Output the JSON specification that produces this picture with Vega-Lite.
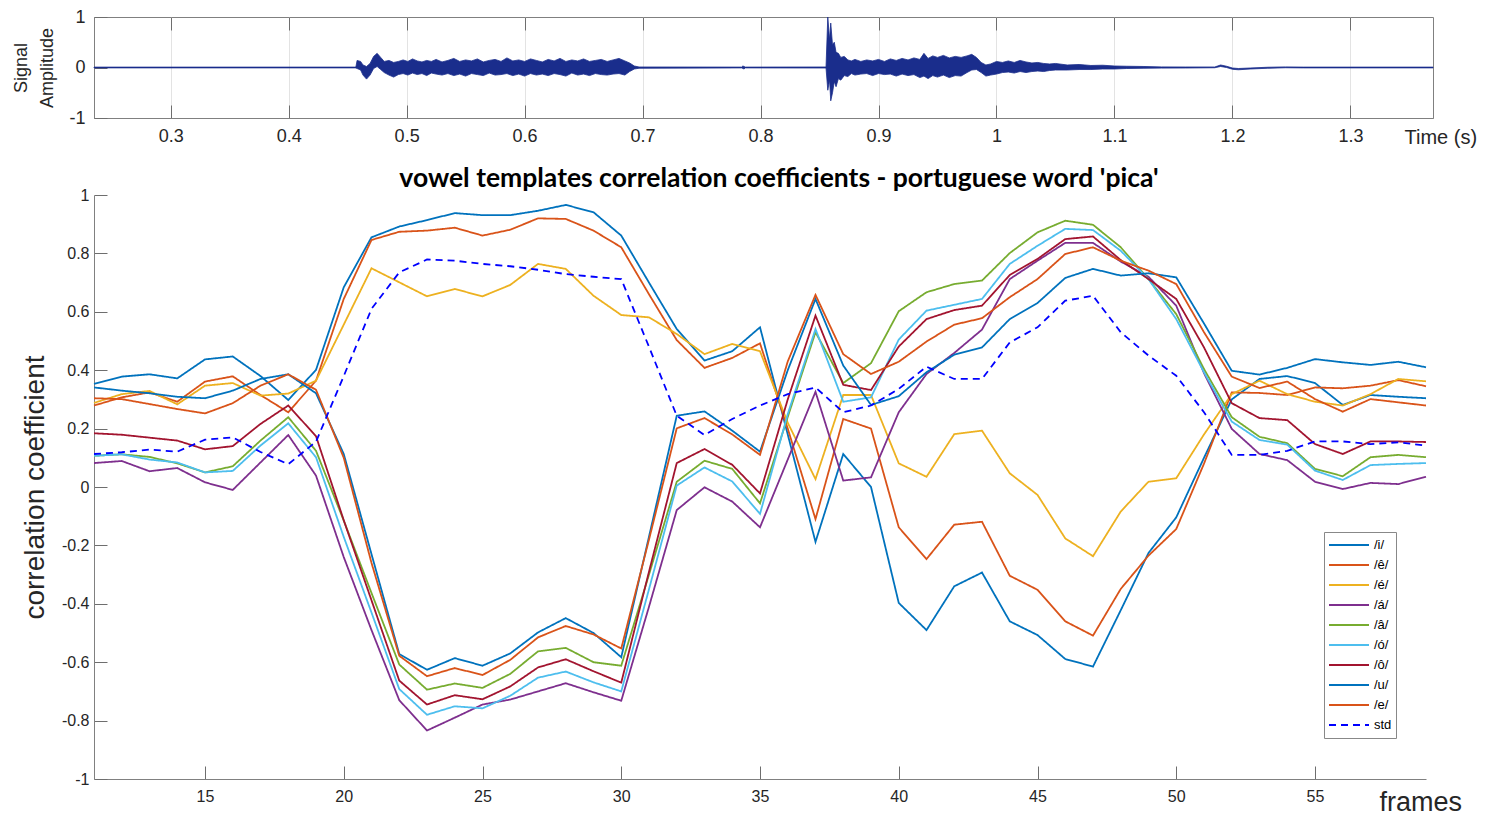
{
"$schema": "https://vega.github.io/schema/vega-lite/v6.json",
"background": "white",
"padding": {"left": 12, "top": 7, "right": 5, "bottom": 0},
"spacing": 17,
"config": {
  "font": "Liberation Sans",
  "view": {"stroke": null},
  "axis": {"domainColor": "#808080", "tickColor": "#6e6e6e", "labelColor": "#262626", "titleColor": "#262626", "labelFont": "Liberation Sans", "titleFont": "Liberation Sans", "titleFontWeight": "normal", "labelFlush": false, "labelOverlap": false, "tickSize": -13, "grid": false}
},
"datasets": {
"wave": [
{"t":0.235,"hi":0.008,"lo":-0.008},{"t":0.456,"hi":0.008,"lo":-0.008},{"t":0.457,"hi":0.01,"lo":-0.01},{"t":0.458,"hi":0.14,"lo":-0.02},{"t":0.461,"hi":0.12,"lo":-0.05},{"t":0.463,"hi":0.05,"lo":-0.15},{"t":0.466,"hi":0.02,"lo":-0.23},{"t":0.469,"hi":0.08,"lo":-0.15},{"t":0.472,"hi":0.22,"lo":-0.02},{"t":0.475,"hi":0.28,"lo":0.02},{"t":0.478,"hi":0.2,"lo":-0.04},{"t":0.481,"hi":0.12,"lo":-0.1},{"t":0.485,"hi":0.14,"lo":-0.15},{"t":0.489,"hi":0.1,"lo":-0.19},{"t":0.493,"hi":0.12,"lo":-0.14},{"t":0.497,"hi":0.15,"lo":-0.12},{"t":0.501,"hi":0.12,"lo":-0.15},{"t":0.505,"hi":0.17,"lo":-0.11},{"t":0.509,"hi":0.13,"lo":-0.14},{"t":0.513,"hi":0.11,"lo":-0.12},{"t":0.517,"hi":0.14,"lo":-0.16},{"t":0.521,"hi":0.12,"lo":-0.11},{"t":0.525,"hi":0.16,"lo":-0.13},{"t":0.53,"hi":0.11,"lo":-0.15},{"t":0.535,"hi":0.14,"lo":-0.12},{"t":0.54,"hi":0.18,"lo":-0.16},{"t":0.545,"hi":0.12,"lo":-0.13},{"t":0.55,"hi":0.15,"lo":-0.17},{"t":0.555,"hi":0.13,"lo":-0.12},{"t":0.56,"hi":0.17,"lo":-0.14},{"t":0.565,"hi":0.11,"lo":-0.16},{"t":0.57,"hi":0.14,"lo":-0.11},{"t":0.575,"hi":0.16,"lo":-0.15},{"t":0.58,"hi":0.12,"lo":-0.14},{"t":0.585,"hi":0.19,"lo":-0.12},{"t":0.59,"hi":0.13,"lo":-0.16},{"t":0.595,"hi":0.15,"lo":-0.13},{"t":0.6,"hi":0.12,"lo":-0.17},{"t":0.605,"hi":0.17,"lo":-0.12},{"t":0.61,"hi":0.14,"lo":-0.15},{"t":0.615,"hi":0.11,"lo":-0.13},{"t":0.62,"hi":0.16,"lo":-0.16},{"t":0.625,"hi":0.13,"lo":-0.12},{"t":0.63,"hi":0.18,"lo":-0.14},{"t":0.635,"hi":0.12,"lo":-0.17},{"t":0.64,"hi":0.15,"lo":-0.11},{"t":0.645,"hi":0.13,"lo":-0.15},{"t":0.65,"hi":0.17,"lo":-0.13},{"t":0.655,"hi":0.12,"lo":-0.16},{"t":0.66,"hi":0.14,"lo":-0.12},{"t":0.665,"hi":0.16,"lo":-0.14},{"t":0.67,"hi":0.12,"lo":-0.15},{"t":0.675,"hi":0.15,"lo":-0.13},{"t":0.68,"hi":0.18,"lo":-0.12},{"t":0.685,"hi":0.13,"lo":-0.15},{"t":0.689,"hi":0.09,"lo":-0.08},{"t":0.693,"hi":0.03,"lo":-0.03},{"t":0.697,"hi":0.01,"lo":-0.015},{"t":0.784,"hi":0.008,"lo":-0.008},{"t":0.785,"hi":0.03,"lo":-0.02},{"t":0.786,"hi":0.02,"lo":-0.03},{"t":0.787,"hi":0.008,"lo":-0.008},{"t":0.8555,"hi":0.01,"lo":-0.01},{"t":0.857,"hi":1.0,"lo":-0.45},{"t":0.8585,"hi":0.55,"lo":-0.25},{"t":0.8595,"hi":0.88,"lo":-0.66},{"t":0.861,"hi":0.45,"lo":-0.5},{"t":0.8625,"hi":0.5,"lo":-0.28},{"t":0.864,"hi":0.3,"lo":-0.38},{"t":0.866,"hi":0.28,"lo":-0.22},{"t":0.868,"hi":0.2,"lo":-0.25},{"t":0.871,"hi":0.22,"lo":-0.16},{"t":0.874,"hi":0.15,"lo":-0.18},{"t":0.877,"hi":0.13,"lo":-0.12},{"t":0.88,"hi":0.16,"lo":-0.15},{"t":0.885,"hi":0.12,"lo":-0.13},{"t":0.89,"hi":0.15,"lo":-0.12},{"t":0.895,"hi":0.13,"lo":-0.16},{"t":0.9,"hi":0.16,"lo":-0.12},{"t":0.905,"hi":0.12,"lo":-0.14},{"t":0.91,"hi":0.17,"lo":-0.13},{"t":0.915,"hi":0.14,"lo":-0.17},{"t":0.92,"hi":0.18,"lo":-0.13},{"t":0.925,"hi":0.15,"lo":-0.16},{"t":0.93,"hi":0.19,"lo":-0.14},{"t":0.935,"hi":0.16,"lo":-0.2},{"t":0.9385,"hi":0.28,"lo":-0.17},{"t":0.942,"hi":0.18,"lo":-0.22},{"t":0.946,"hi":0.23,"lo":-0.16},{"t":0.95,"hi":0.2,"lo":-0.19},{"t":0.955,"hi":0.24,"lo":-0.15},{"t":0.96,"hi":0.19,"lo":-0.2},{"t":0.965,"hi":0.22,"lo":-0.16},{"t":0.97,"hi":0.2,"lo":-0.17},{"t":0.975,"hi":0.23,"lo":-0.1},{"t":0.979,"hi":0.26,"lo":-0.05},{"t":0.983,"hi":0.2,"lo":-0.04},{"t":0.987,"hi":0.1,"lo":-0.1},{"t":0.991,"hi":0.05,"lo":-0.17},{"t":0.995,"hi":0.07,"lo":-0.15},{"t":1.0,"hi":0.12,"lo":-0.13},{"t":1.005,"hi":0.1,"lo":-0.1},{"t":1.01,"hi":0.13,"lo":-0.09},{"t":1.015,"hi":0.1,"lo":-0.11},{"t":1.02,"hi":0.14,"lo":-0.08},{"t":1.025,"hi":0.11,"lo":-0.1},{"t":1.03,"hi":0.09,"lo":-0.08},{"t":1.035,"hi":0.1,"lo":-0.07},{"t":1.04,"hi":0.08,"lo":-0.08},{"t":1.045,"hi":0.07,"lo":-0.06},{"t":1.05,"hi":0.08,"lo":-0.05},{"t":1.06,"hi":0.05,"lo":-0.05},{"t":1.07,"hi":0.06,"lo":-0.04},{"t":1.08,"hi":0.04,"lo":-0.04},{"t":1.09,"hi":0.045,"lo":-0.03},{"t":1.1,"hi":0.03,"lo":-0.03},{"t":1.11,"hi":0.025,"lo":-0.02},{"t":1.125,"hi":0.02,"lo":-0.015},{"t":1.14,"hi":0.012,"lo":-0.012},{"t":1.16,"hi":0.01,"lo":-0.01},{"t":1.185,"hi":0.01,"lo":-0.005},{"t":1.19,"hi":0.05,"lo":0.02},{"t":1.195,"hi":0.025,"lo":0.0},{"t":1.2,"hi":-0.01,"lo":-0.035},{"t":1.205,"hi":-0.02,"lo":-0.045},{"t":1.215,"hi":-0.01,"lo":-0.03},{"t":1.23,"hi":0.005,"lo":-0.015},{"t":1.245,"hi":0.012,"lo":-0.005},{"t":1.26,"hi":0.008,"lo":-0.008},{"t":1.37,"hi":0.008,"lo":-0.008}
],
"corr": [
{"f":11,"s":"/i/","v":0.353},{"f":12,"s":"/i/","v":0.378},{"f":13,"s":"/i/","v":0.386},{"f":14,"s":"/i/","v":0.372},{"f":15,"s":"/i/","v":0.437},{"f":16,"s":"/i/","v":0.447},{"f":17,"s":"/i/","v":0.38},{"f":18,"s":"/i/","v":0.298},{"f":19,"s":"/i/","v":0.401},{"f":20,"s":"/i/","v":0.684},{"f":21,"s":"/i/","v":0.855},{"f":22,"s":"/i/","v":0.892},{"f":23,"s":"/i/","v":0.914},{"f":24,"s":"/i/","v":0.938},{"f":25,"s":"/i/","v":0.931},{"f":26,"s":"/i/","v":0.931},{"f":27,"s":"/i/","v":0.946},{"f":28,"s":"/i/","v":0.966},{"f":29,"s":"/i/","v":0.941},{"f":30,"s":"/i/","v":0.861},{"f":31,"s":"/i/","v":0.70},{"f":32,"s":"/i/","v":0.541},{"f":33,"s":"/i/","v":0.433},{"f":34,"s":"/i/","v":0.465},{"f":35,"s":"/i/","v":0.547},{"f":36,"s":"/i/","v":0.18},{"f":37,"s":"/i/","v":-0.188},{"f":38,"s":"/i/","v":0.113},{"f":39,"s":"/i/","v":0.0},{"f":40,"s":"/i/","v":-0.397},{"f":41,"s":"/i/","v":-0.49},{"f":42,"s":"/i/","v":-0.34},{"f":43,"s":"/i/","v":-0.293},{"f":44,"s":"/i/","v":-0.46},{"f":45,"s":"/i/","v":-0.507},{"f":46,"s":"/i/","v":-0.589},{"f":47,"s":"/i/","v":-0.615},{"f":48,"s":"/i/","v":-0.422},{"f":49,"s":"/i/","v":-0.226},{"f":50,"s":"/i/","v":-0.104},{"f":51,"s":"/i/","v":0.1},{"f":52,"s":"/i/","v":0.30},{"f":53,"s":"/i/","v":0.37},{"f":54,"s":"/i/","v":0.38},{"f":55,"s":"/i/","v":0.356},{"f":56,"s":"/i/","v":0.281},{"f":57,"s":"/i/","v":0.315},{"f":58,"s":"/i/","v":0.309},{"f":59,"s":"/i/","v":0.304},
{"f":11,"s":"/ê/","v":0.279},{"f":12,"s":"/ê/","v":0.307},{"f":13,"s":"/ê/","v":0.324},{"f":14,"s":"/ê/","v":0.292},{"f":15,"s":"/ê/","v":0.361},{"f":16,"s":"/ê/","v":0.379},{"f":17,"s":"/ê/","v":0.315},{"f":18,"s":"/ê/","v":0.256},{"f":19,"s":"/ê/","v":0.364},{"f":20,"s":"/ê/","v":0.644},{"f":21,"s":"/ê/","v":0.846},{"f":22,"s":"/ê/","v":0.874},{"f":23,"s":"/ê/","v":0.878},{"f":24,"s":"/ê/","v":0.888},{"f":25,"s":"/ê/","v":0.861},{"f":26,"s":"/ê/","v":0.881},{"f":27,"s":"/ê/","v":0.920},{"f":28,"s":"/ê/","v":0.918},{"f":29,"s":"/ê/","v":0.878},{"f":30,"s":"/ê/","v":0.821},{"f":31,"s":"/ê/","v":0.66},{"f":32,"s":"/ê/","v":0.503},{"f":33,"s":"/ê/","v":0.408},{"f":34,"s":"/ê/","v":0.442},{"f":35,"s":"/ê/","v":0.492},{"f":36,"s":"/ê/","v":0.2},{"f":37,"s":"/ê/","v":-0.11},{"f":38,"s":"/ê/","v":0.233},{"f":39,"s":"/ê/","v":0.20},{"f":40,"s":"/ê/","v":-0.138},{"f":41,"s":"/ê/","v":-0.247},{"f":42,"s":"/ê/","v":-0.129},{"f":43,"s":"/ê/","v":-0.119},{"f":44,"s":"/ê/","v":-0.304},{"f":45,"s":"/ê/","v":-0.352},{"f":46,"s":"/ê/","v":-0.46},{"f":47,"s":"/ê/","v":-0.509},{"f":48,"s":"/ê/","v":-0.349},{"f":49,"s":"/ê/","v":-0.235},{"f":50,"s":"/ê/","v":-0.144},{"f":51,"s":"/ê/","v":0.08},{"f":52,"s":"/ê/","v":0.324},{"f":53,"s":"/ê/","v":0.322},{"f":54,"s":"/ê/","v":0.315},{"f":55,"s":"/ê/","v":0.341},{"f":56,"s":"/ê/","v":0.338},{"f":57,"s":"/ê/","v":0.347},{"f":58,"s":"/ê/","v":0.366},{"f":59,"s":"/ê/","v":0.345},
{"f":11,"s":"/é/","v":0.288},{"f":12,"s":"/é/","v":0.318},{"f":13,"s":"/é/","v":0.329},{"f":14,"s":"/é/","v":0.283},{"f":15,"s":"/é/","v":0.347},{"f":16,"s":"/é/","v":0.356},{"f":17,"s":"/é/","v":0.313},{"f":18,"s":"/é/","v":0.320},{"f":19,"s":"/é/","v":0.364},{"f":20,"s":"/é/","v":0.556},{"f":21,"s":"/é/","v":0.749},{"f":22,"s":"/é/","v":0.701},{"f":23,"s":"/é/","v":0.653},{"f":24,"s":"/é/","v":0.678},{"f":25,"s":"/é/","v":0.653},{"f":26,"s":"/é/","v":0.692},{"f":27,"s":"/é/","v":0.764},{"f":28,"s":"/é/","v":0.747},{"f":29,"s":"/é/","v":0.655},{"f":30,"s":"/é/","v":0.589},{"f":31,"s":"/é/","v":0.581},{"f":32,"s":"/é/","v":0.524},{"f":33,"s":"/é/","v":0.455},{"f":34,"s":"/é/","v":0.49},{"f":35,"s":"/é/","v":0.465},{"f":36,"s":"/é/","v":0.22},{"f":37,"s":"/é/","v":0.027},{"f":38,"s":"/é/","v":0.315},{"f":39,"s":"/é/","v":0.315},{"f":40,"s":"/é/","v":0.081},{"f":41,"s":"/é/","v":0.035},{"f":42,"s":"/é/","v":0.181},{"f":43,"s":"/é/","v":0.193},{"f":44,"s":"/é/","v":0.047},{"f":45,"s":"/é/","v":-0.027},{"f":46,"s":"/é/","v":-0.176},{"f":47,"s":"/é/","v":-0.237},{"f":48,"s":"/é/","v":-0.084},{"f":49,"s":"/é/","v":0.018},{"f":50,"s":"/é/","v":0.03},{"f":51,"s":"/é/","v":0.18},{"f":52,"s":"/é/","v":0.318},{"f":53,"s":"/é/","v":0.364},{"f":54,"s":"/é/","v":0.318},{"f":55,"s":"/é/","v":0.292},{"f":56,"s":"/é/","v":0.279},{"f":57,"s":"/é/","v":0.318},{"f":58,"s":"/é/","v":0.37},{"f":59,"s":"/é/","v":0.362},
{"f":11,"s":"/á/","v":0.082},{"f":12,"s":"/á/","v":0.089},{"f":13,"s":"/á/","v":0.054},{"f":14,"s":"/á/","v":0.065},{"f":15,"s":"/á/","v":0.016},{"f":16,"s":"/á/","v":-0.01},{"f":17,"s":"/á/","v":0.084},{"f":18,"s":"/á/","v":0.178},{"f":19,"s":"/á/","v":0.039},{"f":20,"s":"/á/","v":-0.24},{"f":21,"s":"/á/","v":-0.49},{"f":22,"s":"/á/","v":-0.73},{"f":23,"s":"/á/","v":-0.834},{"f":24,"s":"/á/","v":-0.79},{"f":25,"s":"/á/","v":-0.745},{"f":26,"s":"/á/","v":-0.728},{"f":27,"s":"/á/","v":-0.70},{"f":28,"s":"/á/","v":-0.672},{"f":29,"s":"/á/","v":-0.703},{"f":30,"s":"/á/","v":-0.732},{"f":31,"s":"/á/","v":-0.41},{"f":32,"s":"/á/","v":-0.079},{"f":33,"s":"/á/","v":-0.001},{"f":34,"s":"/á/","v":-0.05},{"f":35,"s":"/á/","v":-0.138},{"f":36,"s":"/á/","v":0.094},{"f":37,"s":"/á/","v":0.326},{"f":38,"s":"/á/","v":0.022},{"f":39,"s":"/á/","v":0.033},{"f":40,"s":"/á/","v":0.256},{"f":41,"s":"/á/","v":0.387},{"f":42,"s":"/á/","v":0.459},{"f":43,"s":"/á/","v":0.539},{"f":44,"s":"/á/","v":0.712},{"f":45,"s":"/á/","v":0.775},{"f":46,"s":"/á/","v":0.836},{"f":47,"s":"/á/","v":0.836},{"f":48,"s":"/á/","v":0.772},{"f":49,"s":"/á/","v":0.72},{"f":50,"s":"/á/","v":0.621},{"f":51,"s":"/á/","v":0.39},{"f":52,"s":"/á/","v":0.199},{"f":53,"s":"/á/","v":0.113},{"f":54,"s":"/á/","v":0.092},{"f":55,"s":"/á/","v":0.018},{"f":56,"s":"/á/","v":-0.007},{"f":57,"s":"/á/","v":0.014},{"f":58,"s":"/á/","v":0.01},{"f":59,"s":"/á/","v":0.035},
{"f":11,"s":"/â/","v":0.107},{"f":12,"s":"/â/","v":0.112},{"f":13,"s":"/â/","v":0.103},{"f":14,"s":"/â/","v":0.081},{"f":15,"s":"/â/","v":0.050},{"f":16,"s":"/â/","v":0.071},{"f":17,"s":"/â/","v":0.159},{"f":18,"s":"/â/","v":0.239},{"f":19,"s":"/â/","v":0.124},{"f":20,"s":"/â/","v":-0.115},{"f":21,"s":"/â/","v":-0.363},{"f":22,"s":"/â/","v":-0.608},{"f":23,"s":"/â/","v":-0.694},{"f":24,"s":"/â/","v":-0.673},{"f":25,"s":"/â/","v":-0.688},{"f":26,"s":"/â/","v":-0.64},{"f":27,"s":"/â/","v":-0.563},{"f":28,"s":"/â/","v":-0.551},{"f":29,"s":"/â/","v":-0.60},{"f":30,"s":"/â/","v":-0.612},{"f":31,"s":"/â/","v":-0.30},{"f":32,"s":"/â/","v":0.018},{"f":33,"s":"/â/","v":0.09},{"f":34,"s":"/â/","v":0.062},{"f":35,"s":"/â/","v":-0.056},{"f":36,"s":"/â/","v":0.24},{"f":37,"s":"/â/","v":0.53},{"f":38,"s":"/â/","v":0.356},{"f":39,"s":"/â/","v":0.424},{"f":40,"s":"/â/","v":0.602},{"f":41,"s":"/â/","v":0.667},{"f":42,"s":"/â/","v":0.695},{"f":43,"s":"/â/","v":0.707},{"f":44,"s":"/â/","v":0.801},{"f":45,"s":"/â/","v":0.872},{"f":46,"s":"/â/","v":0.912},{"f":47,"s":"/â/","v":0.898},{"f":48,"s":"/â/","v":0.821},{"f":49,"s":"/â/","v":0.712},{"f":50,"s":"/â/","v":0.592},{"f":51,"s":"/â/","v":0.404},{"f":52,"s":"/â/","v":0.239},{"f":53,"s":"/â/","v":0.172},{"f":54,"s":"/â/","v":0.15},{"f":55,"s":"/â/","v":0.062},{"f":56,"s":"/â/","v":0.037},{"f":57,"s":"/â/","v":0.102},{"f":58,"s":"/â/","v":0.11},{"f":59,"s":"/â/","v":0.102},
{"f":11,"s":"/ó/","v":0.107},{"f":12,"s":"/ó/","v":0.112},{"f":13,"s":"/ó/","v":0.094},{"f":14,"s":"/ó/","v":0.084},{"f":15,"s":"/ó/","v":0.050},{"f":16,"s":"/ó/","v":0.055},{"f":17,"s":"/ó/","v":0.142},{"f":18,"s":"/ó/","v":0.218},{"f":19,"s":"/ó/","v":0.102},{"f":20,"s":"/ó/","v":-0.171},{"f":21,"s":"/ó/","v":-0.43},{"f":22,"s":"/ó/","v":-0.692},{"f":23,"s":"/ó/","v":-0.78},{"f":24,"s":"/ó/","v":-0.751},{"f":25,"s":"/ó/","v":-0.758},{"f":26,"s":"/ó/","v":-0.715},{"f":27,"s":"/ó/","v":-0.653},{"f":28,"s":"/ó/","v":-0.632},{"f":29,"s":"/ó/","v":-0.669},{"f":30,"s":"/ó/","v":-0.70},{"f":31,"s":"/ó/","v":-0.35},{"f":32,"s":"/ó/","v":0.005},{"f":33,"s":"/ó/","v":0.067},{"f":34,"s":"/ó/","v":0.019},{"f":35,"s":"/ó/","v":-0.092},{"f":36,"s":"/ó/","v":0.25},{"f":37,"s":"/ó/","v":0.541},{"f":38,"s":"/ó/","v":0.292},{"f":39,"s":"/ó/","v":0.307},{"f":40,"s":"/ó/","v":0.505},{"f":41,"s":"/ó/","v":0.604},{"f":42,"s":"/ó/","v":0.624},{"f":43,"s":"/ó/","v":0.644},{"f":44,"s":"/ó/","v":0.764},{"f":45,"s":"/ó/","v":0.826},{"f":46,"s":"/ó/","v":0.884},{"f":47,"s":"/ó/","v":0.88},{"f":48,"s":"/ó/","v":0.809},{"f":49,"s":"/ó/","v":0.712},{"f":50,"s":"/ó/","v":0.575},{"f":51,"s":"/ó/","v":0.393},{"f":52,"s":"/ó/","v":0.224},{"f":53,"s":"/ó/","v":0.161},{"f":54,"s":"/ó/","v":0.145},{"f":55,"s":"/ó/","v":0.056},{"f":56,"s":"/ó/","v":0.024},{"f":57,"s":"/ó/","v":0.075},{"f":58,"s":"/ó/","v":0.079},{"f":59,"s":"/ó/","v":0.082},
{"f":11,"s":"/ô/","v":0.184},{"f":12,"s":"/ô/","v":0.179},{"f":13,"s":"/ô/","v":0.169},{"f":14,"s":"/ô/","v":0.159},{"f":15,"s":"/ô/","v":0.129},{"f":16,"s":"/ô/","v":0.140},{"f":17,"s":"/ô/","v":0.216},{"f":18,"s":"/ô/","v":0.279},{"f":19,"s":"/ô/","v":0.174},{"f":20,"s":"/ô/","v":-0.114},{"f":21,"s":"/ô/","v":-0.388},{"f":22,"s":"/ô/","v":-0.663},{"f":23,"s":"/ô/","v":-0.745},{"f":24,"s":"/ô/","v":-0.713},{"f":25,"s":"/ô/","v":-0.727},{"f":26,"s":"/ô/","v":-0.683},{"f":27,"s":"/ô/","v":-0.618},{"f":28,"s":"/ô/","v":-0.59},{"f":29,"s":"/ô/","v":-0.631},{"f":30,"s":"/ô/","v":-0.67},{"f":31,"s":"/ô/","v":-0.29},{"f":32,"s":"/ô/","v":0.082},{"f":33,"s":"/ô/","v":0.13},{"f":34,"s":"/ô/","v":0.076},{"f":35,"s":"/ô/","v":-0.022},{"f":36,"s":"/ô/","v":0.30},{"f":37,"s":"/ô/","v":0.587},{"f":38,"s":"/ô/","v":0.35},{"f":39,"s":"/ô/","v":0.332},{"f":40,"s":"/ô/","v":0.481},{"f":41,"s":"/ô/","v":0.575},{"f":42,"s":"/ô/","v":0.606},{"f":43,"s":"/ô/","v":0.621},{"f":44,"s":"/ô/","v":0.726},{"f":45,"s":"/ô/","v":0.781},{"f":46,"s":"/ô/","v":0.849},{"f":47,"s":"/ô/","v":0.858},{"f":48,"s":"/ô/","v":0.777},{"f":49,"s":"/ô/","v":0.712},{"f":50,"s":"/ô/","v":0.644},{"f":51,"s":"/ô/","v":0.478},{"f":52,"s":"/ô/","v":0.287},{"f":53,"s":"/ô/","v":0.236},{"f":54,"s":"/ô/","v":0.229},{"f":55,"s":"/ô/","v":0.147},{"f":56,"s":"/ô/","v":0.113},{"f":57,"s":"/ô/","v":0.156},{"f":58,"s":"/ô/","v":0.156},{"f":59,"s":"/ô/","v":0.154},
{"f":11,"s":"/u/","v":0.341},{"f":12,"s":"/u/","v":0.330},{"f":13,"s":"/u/","v":0.321},{"f":14,"s":"/u/","v":0.309},{"f":15,"s":"/u/","v":0.304},{"f":16,"s":"/u/","v":0.330},{"f":17,"s":"/u/","v":0.370},{"f":18,"s":"/u/","v":0.386},{"f":19,"s":"/u/","v":0.321},{"f":20,"s":"/u/","v":0.113},{"f":21,"s":"/u/","v":-0.23},{"f":22,"s":"/u/","v":-0.572},{"f":23,"s":"/u/","v":-0.626},{"f":24,"s":"/u/","v":-0.586},{"f":25,"s":"/u/","v":-0.612},{"f":26,"s":"/u/","v":-0.57},{"f":27,"s":"/u/","v":-0.498},{"f":28,"s":"/u/","v":-0.449},{"f":29,"s":"/u/","v":-0.50},{"f":30,"s":"/u/","v":-0.583},{"f":31,"s":"/u/","v":-0.17},{"f":32,"s":"/u/","v":0.244},{"f":33,"s":"/u/","v":0.259},{"f":34,"s":"/u/","v":0.193},{"f":35,"s":"/u/","v":0.121},{"f":36,"s":"/u/","v":0.40},{"f":37,"s":"/u/","v":0.644},{"f":38,"s":"/u/","v":0.416},{"f":39,"s":"/u/","v":0.281},{"f":40,"s":"/u/","v":0.311},{"f":41,"s":"/u/","v":0.393},{"f":42,"s":"/u/","v":0.453},{"f":43,"s":"/u/","v":0.478},{"f":44,"s":"/u/","v":0.575},{"f":45,"s":"/u/","v":0.630},{"f":46,"s":"/u/","v":0.716},{"f":47,"s":"/u/","v":0.747},{"f":48,"s":"/u/","v":0.724},{"f":49,"s":"/u/","v":0.732},{"f":50,"s":"/u/","v":0.718},{"f":51,"s":"/u/","v":0.56},{"f":52,"s":"/u/","v":0.398},{"f":53,"s":"/u/","v":0.385},{"f":54,"s":"/u/","v":0.408},{"f":55,"s":"/u/","v":0.438},{"f":56,"s":"/u/","v":0.427},{"f":57,"s":"/u/","v":0.418},{"f":58,"s":"/u/","v":0.429},{"f":59,"s":"/u/","v":0.41},
{"f":11,"s":"/e/","v":0.304},{"f":12,"s":"/e/","v":0.301},{"f":13,"s":"/e/","v":0.284},{"f":14,"s":"/e/","v":0.267},{"f":15,"s":"/e/","v":0.252},{"f":16,"s":"/e/","v":0.287},{"f":17,"s":"/e/","v":0.347},{"f":18,"s":"/e/","v":0.386},{"f":19,"s":"/e/","v":0.333},{"f":20,"s":"/e/","v":0.10},{"f":21,"s":"/e/","v":-0.26},{"f":22,"s":"/e/","v":-0.578},{"f":23,"s":"/e/","v":-0.648},{"f":24,"s":"/e/","v":-0.62},{"f":25,"s":"/e/","v":-0.644},{"f":26,"s":"/e/","v":-0.592},{"f":27,"s":"/e/","v":-0.515},{"f":28,"s":"/e/","v":-0.476},{"f":29,"s":"/e/","v":-0.505},{"f":30,"s":"/e/","v":-0.553},{"f":31,"s":"/e/","v":-0.18},{"f":32,"s":"/e/","v":0.201},{"f":33,"s":"/e/","v":0.236},{"f":34,"s":"/e/","v":0.18},{"f":35,"s":"/e/","v":0.11},{"f":36,"s":"/e/","v":0.43},{"f":37,"s":"/e/","v":0.658},{"f":38,"s":"/e/","v":0.455},{"f":39,"s":"/e/","v":0.387},{"f":40,"s":"/e/","v":0.429},{"f":41,"s":"/e/","v":0.498},{"f":42,"s":"/e/","v":0.556},{"f":43,"s":"/e/","v":0.578},{"f":44,"s":"/e/","v":0.65},{"f":45,"s":"/e/","v":0.712},{"f":46,"s":"/e/","v":0.798},{"f":47,"s":"/e/","v":0.821},{"f":48,"s":"/e/","v":0.775},{"f":49,"s":"/e/","v":0.741},{"f":50,"s":"/e/","v":0.695},{"f":51,"s":"/e/","v":0.53},{"f":52,"s":"/e/","v":0.378},{"f":53,"s":"/e/","v":0.339},{"f":54,"s":"/e/","v":0.361},{"f":55,"s":"/e/","v":0.301},{"f":56,"s":"/e/","v":0.258},{"f":57,"s":"/e/","v":0.301},{"f":58,"s":"/e/","v":0.29},{"f":59,"s":"/e/","v":0.279},
{"f":11,"s":"std","v":0.113},{"f":12,"s":"std","v":0.119},{"f":13,"s":"std","v":0.128},{"f":14,"s":"std","v":0.121},{"f":15,"s":"std","v":0.162},{"f":16,"s":"std","v":0.170},{"f":17,"s":"std","v":0.12},{"f":18,"s":"std","v":0.078},{"f":19,"s":"std","v":0.155},{"f":20,"s":"std","v":0.38},{"f":21,"s":"std","v":0.61},{"f":22,"s":"std","v":0.735},{"f":23,"s":"std","v":0.779},{"f":24,"s":"std","v":0.775},{"f":25,"s":"std","v":0.764},{"f":26,"s":"std","v":0.756},{"f":27,"s":"std","v":0.744},{"f":28,"s":"std","v":0.729},{"f":29,"s":"std","v":0.72},{"f":30,"s":"std","v":0.712},{"f":31,"s":"std","v":0.48},{"f":32,"s":"std","v":0.244},{"f":33,"s":"std","v":0.178},{"f":34,"s":"std","v":0.233},{"f":35,"s":"std","v":0.279},{"f":36,"s":"std","v":0.318},{"f":37,"s":"std","v":0.341},{"f":38,"s":"std","v":0.256},{"f":39,"s":"std","v":0.279},{"f":40,"s":"std","v":0.336},{"f":41,"s":"std","v":0.412},{"f":42,"s":"std","v":0.37},{"f":43,"s":"std","v":0.37},{"f":44,"s":"std","v":0.495},{"f":45,"s":"std","v":0.547},{"f":46,"s":"std","v":0.638},{"f":47,"s":"std","v":0.655},{"f":48,"s":"std","v":0.53},{"f":49,"s":"std","v":0.45},{"f":50,"s":"std","v":0.381},{"f":51,"s":"std","v":0.256},{"f":52,"s":"std","v":0.11},{"f":53,"s":"std","v":0.11},{"f":54,"s":"std","v":0.124},{"f":55,"s":"std","v":0.156},{"f":56,"s":"std","v":0.156},{"f":57,"s":"std","v":0.147},{"f":58,"s":"std","v":0.153},{"f":59,"s":"std","v":0.142}
]
},
"vconcat": [
{
  "width": 1339,
  "height": 101,
  "view": {"stroke": "#808080", "strokeWidth": 1},
  "data": {"name": "wave"},
  "resolve": {"axis": {"x": "independent"}},
  "layer": [
    {
      "mark": {"type": "area", "color": "#1a2d8c", "stroke": "#1a2d8c", "strokeWidth": 0.8},
      "encoding": {
        "x": {"field": "t", "type": "quantitative",
          "scale": {"domain": [0.235, 1.37], "nice": false, "zero": false},
          "axis": {"orient": "bottom", "values": [0.3,0.4,0.5,0.6,0.7,0.8,0.9,1,1.1,1.2,1.3], "format": "~g", "labelFontSize": 18, "labelPadding": 22, "grid": true, "gridColor": "#e3e3e3", "title": "Time (s)", "titleFontSize": 20, "titleAlign": "left", "titleBaseline": "alphabetic", "titleX": 1310, "titleY": 25}},
        "y": {"field": "hi", "type": "quantitative",
          "scale": {"domain": [-1, 1], "nice": false},
          "axis": {"values": [-1, 0, 1], "labelExpr": "'' + datum.value", "labelFontSize": 18, "labelPadding": 22, "title": ["Signal", "Amplitude"], "titleFontSize": 18, "titleLineHeight": 26, "titlePadding": 12}},
        "y2": {"field": "lo"}
      }
    },
    {
      "mark": {"type": "area", "opacity": 0},
      "encoding": {
        "x": {"field": "t", "type": "quantitative",
          "axis": {"orient": "top", "values": [0.3,0.4,0.5,0.6,0.7,0.8,0.9,1,1.1,1.2,1.3], "labels": false, "domain": false, "title": null}},
        "y": {"field": "hi", "type": "quantitative"},
        "y2": {"field": "lo"}
      }
    }
  ]
},
{
  "width": 1332,
  "height": 584,
  "title": {"text": "vowel templates correlation coefficients - portuguese word 'pica'", "font": "Lato", "fontSize": 26.5, "fontWeight": "bold", "color": "#000000", "offset": -5, "dx": 19},
  "data": {"name": "corr"},
  "mark": {"type": "line", "strokeWidth": 1.8},
  "encoding": {
    "x": {"field": "f", "type": "quantitative",
      "scale": {"domain": [11, 59], "nice": false, "zero": false},
      "axis": {"values": [15,20,25,30,35,40,45,50,55], "labelFontSize": 16, "labelPadding": 22, "title": "frames", "titleFontSize": 27, "titleAlign": "left", "titleBaseline": "alphabetic", "titleX": 1285, "titleY": 31}},
    "y": {"field": "v", "type": "quantitative",
      "scale": {"domain": [-1, 1], "nice": false},
      "axis": {"values": [-1,-0.8,-0.6,-0.4,-0.2,0,0.2,0.4,0.6,0.8,1], "labelExpr": "'' + datum.value", "labelFontSize": 16, "labelPadding": 18, "title": "correlation coefficient", "titleFontSize": 28, "titlePadding": 12}},
    "color": {"field": "s", "type": "nominal",
      "scale": {"domain": ["/i/","/ê/","/é/","/á/","/â/","/ó/","/ô/","/u/","/e/","std"], "range": ["#0072BD","#D95319","#EDB120","#7E2F8E","#77AC30","#4DBEEE","#A2142F","#0072BD","#D95319","#0000FF"]},
      "legend": {"title": null, "orient": "none", "legendX": 1230, "legendY": 515, "symbolType": "stroke", "symbolSize": 1600, "symbolStrokeWidth": 2, "labelFontSize": 13, "labelFont": "Liberation Sans", "labelColor": "#000000", "clipHeight": 17.8, "rowPadding": 2, "padding": 4, "strokeColor": "#888888", "fillColor": "#ffffff", "labelOffset": 4}},
    "strokeDash": {"field": "s", "type": "nominal",
      "scale": {"domain": ["/i/","/ê/","/é/","/á/","/â/","/ó/","/ô/","/u/","/e/","std"], "range": [[1,0],[1,0],[1,0],[1,0],[1,0],[1,0],[1,0],[1,0],[1,0],[7,5]]},
      "legend": {"title": null, "orient": "none", "legendX": 1230, "legendY": 515, "symbolType": "stroke", "symbolSize": 1600, "symbolStrokeWidth": 2, "labelFontSize": 13, "labelFont": "Liberation Sans", "labelColor": "#000000", "clipHeight": 17.8, "rowPadding": 2, "padding": 4, "strokeColor": "#888888", "fillColor": "#ffffff", "labelOffset": 4}}
  }
}
]
}
